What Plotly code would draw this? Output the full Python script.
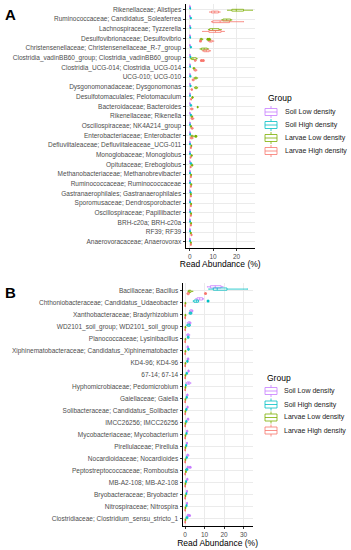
import plotly.graph_objects as go

GROUPS = ["Soil Low density", "Soil High density", "Larvae Low density", "Larvae High density"]
COLORS = ["#C77CFF", "#00BFC4", "#7CAE00", "#F8766D"]

# ---------------- Panel A ----------------
CATS_A = [
    "Rikenellaceae; Alistipes", "Ruminococcaceae; Candidatus_Soleaferrea", "Lachnospiraceae; Tyzzerella",
    "Desulfovibrionaceae; Desulfovibrio", "Christensenellaceae; Christensenellaceae_R-7_group",
    "Clostridia_vadinBB60_group; Clostridia_vadinBB60_group", "Clostridia_UCG-014; Clostridia_UCG-014",
    "UCG-010; UCG-010", "Dysgonomonadaceae; Dysgonomonas", "Desulfotomaculales; Pelotomaculum",
    "Bacteroidaceae; Bacteroides", "Rikenellaceae; Rikenella", "Oscillospiraceae; NK4A214_group",
    "Enterobacteriaceae; Enterobacter", "Defluviitaleaceae; Defluviitaleaceae_UCG-011",
    "Monoglobaceae; Monoglobus", "Opitutaceae; Ereboglobus", "Methanobacteriaceae; Methanobrevibacter",
    "Ruminococcaceae; Ruminococcaceae", "Gastranaerophilales; Gastranaerophilales",
    "Sporomusaceae; Dendrosporobacter", "Oscillospiraceae; Papillibacter", "BRH-c20a; BRH-c20a",
    "RF39; RF39", "Anaerovoracaceae; Anaerovorax",
]
# (lower whisker, q1, median, q3, upper whisker)
A_SOIL_LOW = [(0, 0.05, 0.1, 0.15, 0.2)] * 25
A_SOIL_HIGH = [
    (0.1, 0.15, 0.2, 0.3, 0.4), (0.2, 0.3, 0.5, 0.6, 0.8), (0.1, 0.2, 0.3, 0.4, 0.5), (0.1, 0.15, 0.2, 0.3, 0.4),
    (0.2, 0.3, 0.5, 0.6, 0.8), (0.1, 0.2, 0.3, 0.4, 0.5), (0.1, 0.15, 0.2, 0.25, 0.3), (0, 0.1, 0.2, 0.4, 0.6),
    (0.1, 0.2, 0.3, 0.5, 0.6), (0.05, 0.1, 0.15, 0.2, 0.25), (0.1, 0.3, 0.5, 0.7, 0.9), (0.2, 0.3, 0.5, 0.6, 0.8),
    (0.05, 0.1, 0.15, 0.2, 0.3), (0.05, 0.1, 0.2, 0.3, 0.4), (0.05, 0.1, 0.15, 0.2, 0.25), (0.05, 0.1, 0.15, 0.2, 0.3),
    (0.1, 0.3, 0.5, 0.7, 0.9), (0.05, 0.1, 0.15, 0.2, 0.3), (0.05, 0.1, 0.15, 0.2, 0.3), (0.1, 0.2, 0.3, 0.5, 0.6),
    (0.05, 0.1, 0.15, 0.2, 0.3), (0.05, 0.1, 0.2, 0.3, 0.4), (0.05, 0.1, 0.15, 0.2, 0.3), (0.05, 0.1, 0.15, 0.2, 0.3),
    (0.05, 0.1, 0.15, 0.2, 0.3),
]
A_LARVAE_LOW = [
    (16.2, 18, 19.9, 23, 26.8), (13.7, 14.2, 15.8, 17.5, 18), (8, 8.5, 9.8, 12.5, 13.5), (4.4, 4.6, 5, 5.3, 5.6),
    (4.4, 5, 6.2, 7.5, 8), (0.3, 0.8, 1.4, 2.8, 3.2), (1.4, 1.6, 1.8, 2.0, 2.3), (1.8, 2.2, 2.5, 3.0, 3.4),
    (2.0, 2.3, 2.7, 3.1, 3.4), (0.9, 1.0, 1.2, 1.4, 1.5), (3.2, 3.3, 3.4, 3.5, 3.6), (0.5, 0.7, 1.0, 1.2, 1.3),
    (0.3, 0.4, 0.6, 0.7, 0.8), (0.5, 0.7, 0.9, 1.3, 1.6), (0.5, 0.6, 0.7, 0.8, 0.9), (0.5, 0.7, 0.8, 1.0, 1.1),
    (0.5, 0.8, 1.0, 1.2, 1.4), (0.4, 0.5, 0.6, 0.7, 0.8), (0.4, 0.5, 0.7, 0.8, 0.9), (0.3, 0.4, 0.5, 0.6, 0.7),
    (0.4, 0.5, 0.6, 0.7, 0.8), (0.4, 0.5, 0.6, 0.7, 0.8), (0.4, 0.5, 0.6, 0.7, 0.8), (0.3, 0.4, 0.5, 0.6, 0.7),
    (0.3, 0.4, 0.5, 0.6, 0.7),
]
A_LARVAE_HIGH = [
    (8.5, 9.3, 10.7, 12.3, 13), (9.3, 9.8, 13, 17, 23), (5.5, 8.2, 11, 13.4, 14.8), (7.9, 8.3, 8.8, 9.6, 10.3),
    (5.5, 6, 7.1, 8.3, 8.9), (2.0, 2.1, 2.3, 2.6, 2.8), (1.8, 2.1, 2.4, 2.8, 3.1), (1.0, 1.2, 1.5, 1.8, 2.0),
    (0.5, 0.7, 0.9, 1.1, 1.2), (0.4, 0.5, 0.6, 0.7, 0.8), (0.3, 0.5, 0.8, 1.2, 1.5), (0.5, 0.8, 1.2, 1.5, 1.8),
    (0.5, 0.8, 1.0, 1.3, 1.5), (0.2, 0.4, 0.8, 1.2, 1.5), (0.3, 0.4, 0.5, 0.6, 0.7), (0.2, 0.3, 0.4, 0.5, 0.6),
    (0.2, 0.3, 0.4, 0.5, 0.6), (0.3, 0.4, 0.5, 0.6, 0.7), (0.3, 0.4, 0.5, 0.6, 0.7), (0.3, 0.4, 0.5, 0.6, 0.7),
    (0.3, 0.4, 0.5, 0.6, 0.7), (0.3, 0.4, 0.5, 0.6, 0.7), (0.3, 0.4, 0.5, 0.6, 0.7), (0.5, 0.6, 0.8, 0.9, 1.0),
    (0.3, 0.4, 0.5, 0.6, 0.7),
]
A_OUTLIERS = {
    "Larvae Low density": {"Desulfovibrionaceae; Desulfovibrio": [7.8, 8.4], "Enterobacteriaceae; Enterobacter": [2.6]},
    "Larvae High density": {"Desulfovibrionaceae; Desulfovibrio": [4.6],
                            "Clostridia_vadinBB60_group; Clostridia_vadinBB60_group": [5.0, 5.8]},
}

# ---------------- Panel B ----------------
CATS_B = [
    "Bacillaceae; Bacillus", "Chthoniobacteraceae; Candidatus_Udaeobacter", "Xanthobacteraceae; Bradyrhizobium",
    "WD2101_soil_group; WD2101_soil_group", "Planococcaceae; Lysinibacillus",
    "Xiphinematobacteraceae; Candidatus_Xiphinematobacter", "KD4-96; KD4-96", "67-14; 67-14",
    "Hyphomicrobiaceae; Pedomicrobium", "Gaiellaceae; Gaiella", "Solibacteraceae; Candidatus_Solibacter",
    "IMCC26256; IMCC26256", "Mycobacteriaceae; Mycobacterium", "Pirellulaceae; Pirellula",
    "Nocardioidaceae; Nocardioides", "Peptostreptococcaceae; Romboutsia", "MB-A2-108; MB-A2-108",
    "Bryobacteraceae; Bryobacter", "Nitrospiraceae; Nitrospira", "Clostridiaceae; Clostridium_sensu_stricto_1",
]
B_SOIL_LOW = [
    (11.5, 13, 15.5, 18.5, 19.5), (5.5, 6.2, 7.5, 9.0, 9.5), (2.3, 2.6, 3.2, 3.8, 4.1), (1.1, 1.6, 2.3, 2.8, 3.1),
    (0.8, 1.2, 1.6, 2.0, 2.4), (1.0, 1.2, 1.4, 1.6, 1.8), (1.0, 1.3, 1.6, 1.8, 2.0), (1.4, 1.6, 1.8, 2.0, 2.2),
    (0.5, 1.0, 1.8, 2.5, 3.0), (0.8, 1.0, 1.2, 1.4, 1.6), (1.0, 1.1, 1.3, 1.5, 1.6), (1.0, 1.3, 1.5, 1.8, 2.0),
    (0.7, 0.9, 1.1, 1.3, 1.5), (0.8, 0.9, 1.0, 1.1, 1.2), (0.8, 1.1, 1.4, 1.7, 2.0), (1.0, 1.2, 1.4, 1.7, 1.9),
    (0.8, 1.0, 1.2, 1.4, 1.5), (0.7, 0.9, 1.0, 1.2, 1.3), (0.7, 0.9, 1.0, 1.2, 1.3), (1.0, 1.3, 1.6, 1.9, 2.0),
]
B_SOIL_HIGH = [
    (12.2, 14.5, 16.5, 21.5, 32), (4.2, 4.6, 5.8, 6.8, 7.0), (2.0, 2.3, 2.8, 3.3, 3.6), (0.8, 1.3, 2.0, 2.5, 2.8),
    (1.1, 1.3, 1.6, 1.9, 2.1), (1.2, 1.5, 1.8, 2.0, 2.2), (0.8, 1.0, 1.2, 1.4, 1.6), (0.5, 0.7, 0.9, 1.1, 1.3),
    (0.2, 0.3, 0.4, 0.5, 0.6), (0.5, 0.7, 0.9, 1.0, 1.2), (0.3, 0.5, 0.7, 0.9, 1.0), (0.3, 0.5, 0.7, 0.9, 1.0),
    (0.5, 0.6, 0.8, 0.9, 1.0), (0.4, 0.5, 0.7, 0.8, 0.9), (0.5, 0.7, 0.9, 1.0, 1.2), (0.3, 0.6, 0.9, 1.2, 1.5),
    (0.3, 0.4, 0.6, 0.7, 0.8), (0.5, 0.6, 0.7, 0.8, 0.9), (0.5, 0.6, 0.8, 0.9, 1.0), (0.5, 0.7, 1.0, 1.3, 1.5),
]
B_LARVAE_LOW = [(1.5, 1.8, 2.2, 3.0, 4.0)] + [(0.05, 0.1, 0.2, 0.3, 0.4)] * 14 + \
    [(0.2, 0.3, 0.4, 0.5, 0.6)] + [(0.05, 0.1, 0.2, 0.3, 0.4)] * 4
B_LARVAE_HIGH = [(1.0, 1.2, 1.6, 2.0, 2.2)] + [(0, 0.05, 0.1, 0.15, 0.2)] * 19
B_OUTLIERS = {
    "Soil Low density": {"Peptostreptococcaceae; Romboutsia": [2.6],
                         "Clostridiaceae; Clostridium_sensu_stricto_1": [2.3]},
    "Soil High density": {"Chthoniobacteraceae; Candidatus_Udaeobacter": [11.8]},
    "Larvae High density": {"Bacillaceae; Bacillus": [10.5]},
}

FONT = "Liberation Sans, Arial, sans-serif"
W, H = 351, 550

fig = go.Figure()


def add_panel(cats, stats, outliers, xaxis, yaxis):
    for gi, (name, col) in enumerate(zip(GROUPS, COLORS)):
        st = stats[gi]
        fig.add_trace(go.Box(
            name=name, y=cats, orientation="h",
            lowerfence=[s[0] for s in st], q1=[s[1] for s in st], median=[s[2] for s in st],
            q3=[s[3] for s in st], upperfence=[s[4] for s in st],
            boxpoints=False, showlegend=False,
            line=dict(color=col, width=0.8), fillcolor="rgba(255,255,255,0)",
            xaxis=xaxis, yaxis=yaxis, offsetgroup=name, alignmentgroup=xaxis,
            hoverinfo="skip",
        ))
    for gi, (name, col) in enumerate(zip(GROUPS, COLORS)):
        oy, ox = [], []
        for c, vals in outliers.get(name, {}).items():
            for v in vals:
                oy.append(c)
                ox.append(v)
        if not oy:
            oy, ox = [cats[0]], [None]
        fig.add_trace(go.Scatter(
            y=oy, x=ox, mode="markers", orientation="h", marker=dict(color=col, size=3),
            xaxis=xaxis, yaxis=yaxis, offsetgroup=name, alignmentgroup=xaxis,
            showlegend=False, hoverinfo="skip",
        ))


add_panel(CATS_A, [A_SOIL_LOW, A_SOIL_HIGH, A_LARVAE_LOW, A_LARVAE_HIGH], A_OUTLIERS, "x", "y")
add_panel(CATS_B, [B_SOIL_LOW, B_SOIL_HIGH, B_LARVAE_LOW, B_LARVAE_HIGH], B_OUTLIERS, "x2", "y2")

axis_common = dict(showgrid=True, gridcolor="#EBEBEB", gridwidth=1, zeroline=False, automargin=False,
                   showline=True, linecolor="black", linewidth=1, ticks="outside",
                   ticklen=2, tickcolor="#333333", tickfont=dict(size=6.5, color="#4D4D4D", family=FONT))
title_x = dict(text="Read Abundance (%)", font=dict(size=8.5, color="black", family=FONT), standoff=1)

shapes, annotations = [], []


def px_x(x):
    return x / W


def px_y(y):
    return 1 - y / H


def add_legend(x_title, y_title, x_key, x_text, y_entries):
    annotations.append(dict(text="Group", x=px_x(x_title), y=px_y(y_title), xref="paper", yref="paper",
                            xanchor="left", yanchor="middle", showarrow=False,
                            font=dict(size=8.5, color="black", family=FONT)))
    for name, col, yc in zip(GROUPS, COLORS, y_entries):
        x0, x1 = x_key, x_key + 12
        xm = (x0 + x1) / 2
        shapes.append(dict(type="rect", xref="paper", yref="paper", x0=px_x(x0), x1=px_x(x1),
                           y0=px_y(yc - 3.5), y1=px_y(yc + 3.5), line=dict(color=col, width=0.8),
                           fillcolor="white"))
        shapes.append(dict(type="line", xref="paper", yref="paper", x0=px_x(x0), x1=px_x(x1),
                           y0=px_y(yc), y1=px_y(yc), line=dict(color=col, width=0.8)))
        for ya, yb in ((yc - 6, yc - 3.5), (yc + 3.5, yc + 6)):
            shapes.append(dict(type="line", xref="paper", yref="paper", x0=px_x(xm), x1=px_x(xm),
                               y0=px_y(ya), y1=px_y(yb), line=dict(color=col, width=0.8)))
        annotations.append(dict(text=name, x=px_x(x_text), y=px_y(yc), xref="paper", yref="paper",
                                xanchor="left", yanchor="middle", showarrow=False,
                                font=dict(size=7, color="#222222", family=FONT)))


add_legend(266, 98, 265, 283, [112, 125, 138, 151])
add_legend(265, 378, 265, 282, [391, 404.5, 417.5, 430.5])

annotations.append(dict(text="<b>A</b>", x=px_x(3), y=px_y(14), xref="paper", yref="paper", xanchor="left",
                        yanchor="middle", showarrow=False, font=dict(size=15, color="black", family=FONT)))
annotations.append(dict(text="<b>B</b>", x=px_x(3), y=px_y(292), xref="paper", yref="paper", xanchor="left",
                        yanchor="middle", showarrow=False, font=dict(size=15, color="black", family=FONT)))

nA, nB = len(CATS_A), len(CATS_B)
fig.update_layout(
    width=W, height=H, margin=dict(l=0, r=0, t=0, b=0),
    paper_bgcolor="white", plot_bgcolor="white", showlegend=False,
    boxmode="group", boxgap=0.25, boxgroupgap=0,
    scattermode="group", scattergap=0.25,
    font=dict(family=FONT),
    xaxis=dict(domain=[185.5 / W, 255 / W], range=[-1.8, 27.9], tickvals=[0, 10, 20], anchor="y",
               title=title_x, **axis_common),
    yaxis=dict(domain=[1 - 247.7 / H, 1 - 3.5 / H], type="category", categoryorder="array",
               categoryarray=CATS_A, range=[nA - 0.4, -0.6], anchor="x", **axis_common),
    xaxis2=dict(domain=[182.5 / W, 252.7 / W], range=[-1.3, 34.7], tickvals=[0, 10, 20, 30], anchor="y2",
                title=title_x, **axis_common),
    yaxis2=dict(domain=[1 - 526 / H, 1 - 283 / H], type="category", categoryorder="array",
                categoryarray=CATS_B, range=[nB - 0.4, -0.6], anchor="x2", **axis_common),
    shapes=shapes,
    annotations=annotations,
)

fig.write_html("out.html", config={"displayModeBar": False, "staticPlot": True},
               post_script="document.body.style.margin='0px';document.body.style.overflow='hidden';")
